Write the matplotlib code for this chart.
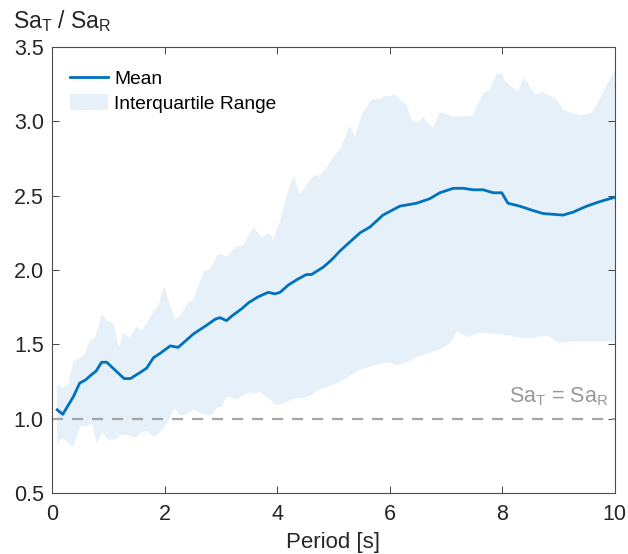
import matplotlib
matplotlib.use("Agg")
import matplotlib.pyplot as plt
import numpy as np

plt.rcParams['font.family'] = ['Liberation Sans', 'DejaVu Sans']
plt.rcParams['mathtext.fontset'] = 'custom'
plt.rcParams['mathtext.rm'] = 'Liberation Sans'

# mean ratio Sa_T / Sa_R vs period
t_mean = [0.09, 0.19, 0.38, 0.49, 0.59, 0.68, 0.78, 0.88, 0.97, 1.28, 1.39, 1.56, 1.68, 1.80, 1.92,
          2.10, 2.24, 2.36, 2.51, 2.75, 2.90, 2.98, 3.10, 3.19, 3.37, 3.49, 3.66, 3.84, 3.96, 4.05,
          4.20, 4.37, 4.52, 4.61, 4.82, 4.97, 5.12, 5.47, 5.65, 5.88, 6.18, 6.48, 6.71, 6.89, 7.13,
          7.31, 7.48, 7.66, 7.84, 7.99, 8.10, 8.31, 8.55, 8.73, 9.08, 9.26, 9.50, 9.73, 10.0]
mean = [1.06, 1.03, 1.15, 1.24, 1.26, 1.29, 1.32, 1.38, 1.38, 1.27, 1.27, 1.31, 1.34, 1.41, 1.44,
        1.49, 1.48, 1.52, 1.57, 1.63, 1.67, 1.68, 1.66, 1.69, 1.74, 1.78, 1.82, 1.85, 1.84, 1.85,
        1.90, 1.94, 1.97, 1.97, 2.02, 2.07, 2.13, 2.25, 2.29, 2.37, 2.43, 2.45, 2.48, 2.52, 2.55,
        2.55, 2.54, 2.54, 2.52, 2.52, 2.45, 2.43, 2.40, 2.38, 2.37, 2.39, 2.43, 2.46, 2.49]

# 75th percentile
t_q3 = [0.09, 0.19, 0.29, 0.38, 0.50, 0.59, 0.68, 0.76, 0.88, 0.97, 1.09, 1.19, 1.27, 1.37, 1.50,
        1.59, 1.80, 1.89, 1.99, 2.18, 2.27, 2.42, 2.51, 2.69, 2.81, 2.93, 3.01, 3.10, 3.28, 3.40,
        3.58, 3.72, 3.84, 3.93, 4.05, 4.20, 4.29, 4.40, 4.52, 4.64, 4.76, 4.88, 5.03, 5.12, 5.29,
        5.38, 5.50, 5.68, 5.83, 5.91, 6.00, 6.09, 6.30, 6.39, 6.48, 6.60, 6.68, 6.77, 6.89, 7.01,
        7.13, 7.48, 7.66, 7.78, 7.90, 7.99, 8.05, 8.28, 8.38, 8.58, 8.70, 8.96, 9.08, 9.20, 9.41,
        9.59, 9.73, 10.0]
q3 = [1.23, 1.21, 1.23, 1.39, 1.41, 1.44, 1.53, 1.54, 1.70, 1.66, 1.64, 1.48, 1.58, 1.54, 1.62,
      1.59, 1.72, 1.76, 1.89, 1.67, 1.69, 1.78, 1.80, 1.99, 2.01, 2.10, 2.11, 2.09, 2.16, 2.17,
      2.29, 2.22, 2.25, 2.21, 2.33, 2.54, 2.63, 2.51, 2.57, 2.63, 2.64, 2.69, 2.78, 2.81, 2.97,
      2.90, 3.04, 3.15, 3.15, 3.17, 3.17, 3.18, 3.11, 3.01, 2.99, 3.03, 2.98, 2.96, 3.06, 3.05,
      3.03, 3.04, 3.19, 3.21, 3.32, 3.32, 3.27, 3.20, 3.30, 3.18, 3.20, 3.15, 3.08, 3.06, 3.04,
      3.06, 3.15, 3.35]

# 25th percentile
t_q1 = [0.09, 0.19, 0.38, 0.50, 0.62, 0.71, 0.79, 0.88, 1.00, 1.12, 1.21, 1.36, 1.47, 1.59, 1.68,
        1.80, 1.89, 2.04, 2.18, 2.27, 2.39, 2.51, 2.69, 2.81, 2.93, 3.01, 3.10, 3.19, 3.28, 3.40,
        3.52, 3.61, 3.69, 3.87, 3.99, 4.08, 4.20, 4.35, 4.49, 4.61, 4.76, 4.94, 5.12, 5.30, 5.47,
        5.65, 5.83, 6.00, 6.12, 6.30, 6.51, 6.77, 7.01, 7.10, 7.19, 7.37, 7.60, 7.96, 8.43, 8.79,
        9.02, 9.26, 9.73, 10.0]
q1 = [0.83, 0.87, 0.81, 0.95, 0.95, 0.97, 0.83, 0.91, 0.86, 0.86, 0.89, 0.89, 0.87, 0.91, 0.92,
      0.88, 0.90, 0.97, 1.07, 1.02, 1.03, 1.06, 1.03, 1.02, 1.07, 1.08, 1.15, 1.14, 1.13, 1.16,
      1.18, 1.17, 1.18, 1.13, 1.09, 1.10, 1.12, 1.14, 1.14, 1.16, 1.20, 1.22, 1.25, 1.29, 1.33,
      1.35, 1.37, 1.38, 1.36, 1.38, 1.42, 1.45, 1.49, 1.52, 1.59, 1.55, 1.58, 1.57, 1.54, 1.56,
      1.51, 1.52, 1.52, 1.52]

x_ticks = [0, 2, 4, 6, 8, 10]
y_ticks = [0.5, 1.0, 1.5, 2.0, 2.5, 3.0, 3.5]

blue = '#0072BD'
band = '#E5F0F8'
grey = '#A6A6A6'
dark = '#262626'

fig = plt.figure(figsize=(6.28, 5.54), dpi=100)
ax = fig.add_axes([0.083, 0.110, 0.896, 0.805])

poly_x = np.concatenate([t_q3, t_q1[::-1]])
poly_y = np.concatenate([q3, q1[::-1]])
ax.fill(poly_x, poly_y, color=band, lw=0, label='Interquartile Range')
ax.plot(t_mean, mean, color=blue, lw=2.0, label='Mean')
ax.axhline(1.0, color=grey, lw=1.6, ls=(0, (5, 4)))
ax.text(9.88, 1.11, r'Sa$_\mathregular{T}$ = Sa$_\mathregular{R}$', color='#999999',
        fontsize=15.5, ha='right', va='baseline')

ax.set_xlim(0, 10)
ax.set_ylim(0.5, 3.5)
ax.set_xticks(x_ticks)
ax.set_yticks(y_ticks)
ax.set_yticklabels(['%.1f' % v for v in y_ticks])
ax.tick_params(direction='in', length=5, width=0.6, top=True, right=True,
               labelsize=15.5, colors=dark)
ax.tick_params(axis='x', pad=8)
ax.tick_params(axis='y', pad=6)
for s in ax.spines.values():
    s.set_color('#4d4d4d')
    s.set_linewidth(0.8)
ax.set_xlabel('Period [s]', fontsize=16, color=dark)
# baseline of the x label about 548 px from the top
ax.xaxis.set_label_coords(0.5, -0.123)
ax.xaxis.label.set_va('baseline')
fig.text(0.02, 0.9495, r'Sa$_\mathregular{T}$ / Sa$_\mathregular{R}$', fontsize=16.5, color=dark,
         ha='left', va='baseline')

h, l = ax.get_legend_handles_labels()
ax.legend(h[::-1], l[::-1], loc='upper left', frameon=False, fontsize=13.8,
          handlelength=2.0, handleheight=0.9, handletextpad=0.3, labelspacing=0.3,
          borderaxespad=0.0, bbox_to_anchor=(0.018, 0.966))

fig.savefig('out.png', dpi=100)
